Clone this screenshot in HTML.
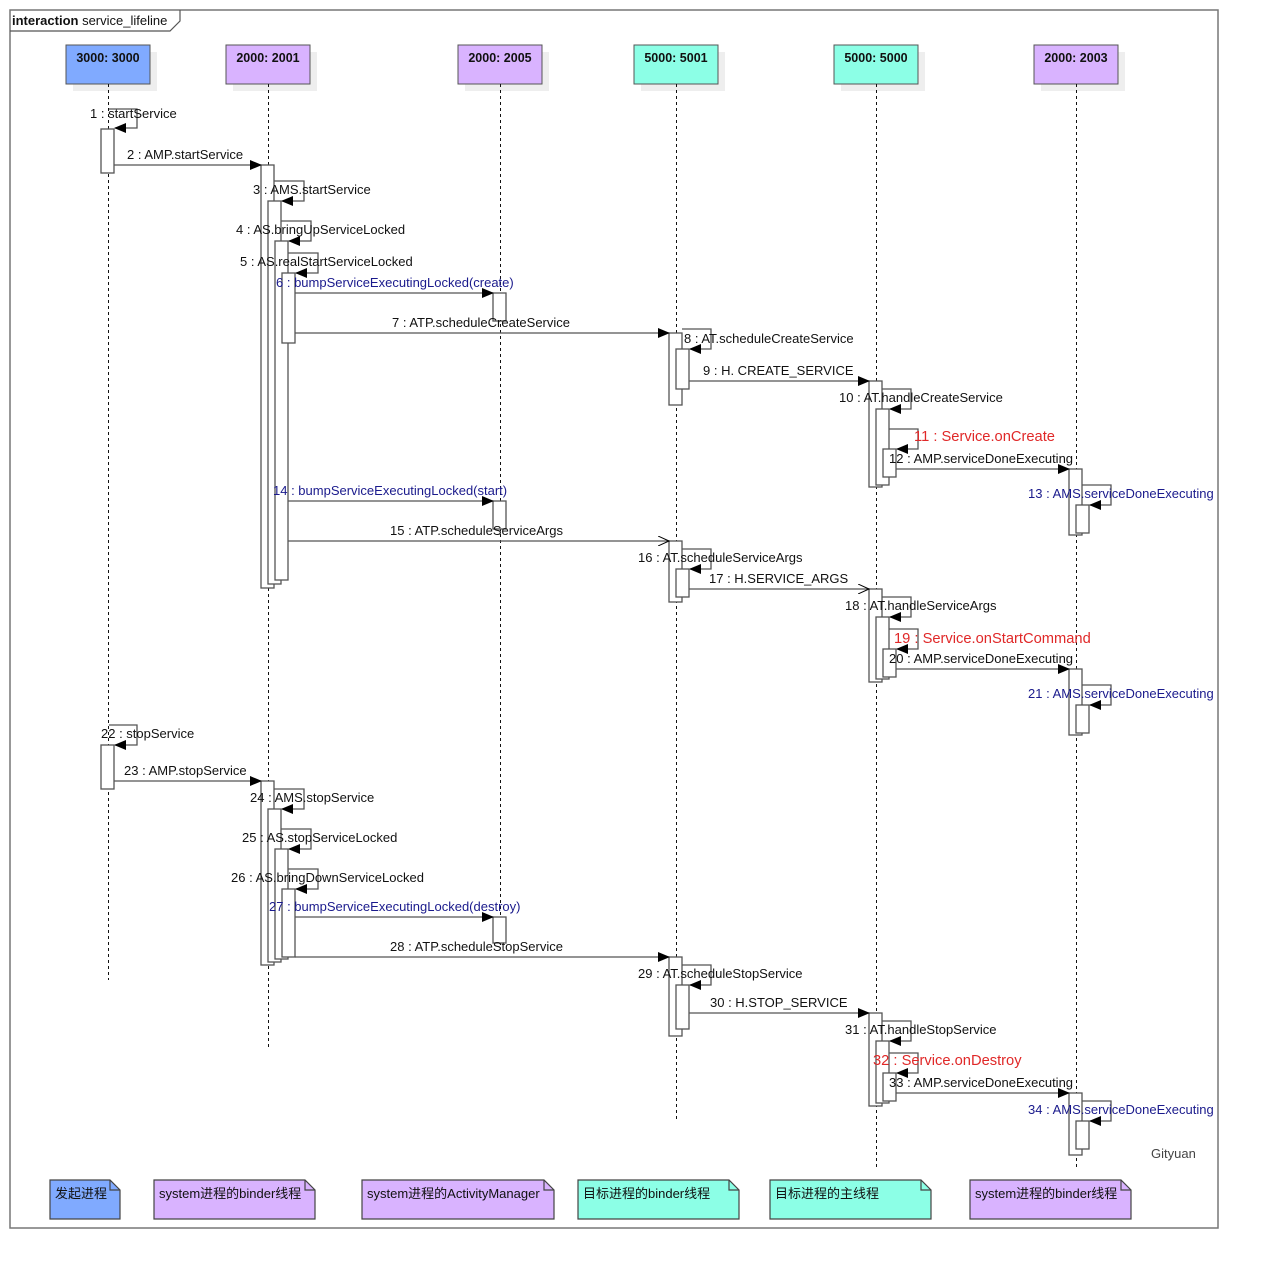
<!DOCTYPE html>
<html><head><meta charset="utf-8"><style>
html,body{margin:0;padding:0;background:#fff}
svg{display:block}
text{font-family:"Liberation Sans","Noto Sans CJK SC",sans-serif;font-size:13px;fill:#111}
.h{font-size:12.5px;font-weight:bold}
.b{fill:#1a1a8c}.r{fill:#e02828;font-size:14.7px}
.a{fill:#fff;stroke:#555;stroke-width:1.3}
.l{stroke:#555;stroke-width:1.3;fill:none}
.ll{stroke:#111;stroke-width:1;stroke-dasharray:3,3;fill:none}
</style></head><body>
<svg width="1269" height="1269" viewBox="0 0 1269 1269" xmlns="http://www.w3.org/2000/svg">
<defs>
<marker id="f" markerWidth="12" markerHeight="10" refX="11" refY="5" orient="auto" markerUnits="userSpaceOnUse"><path d="M0,0 L12,5 L0,10 z" fill="#000"/></marker>
<marker id="o" markerWidth="12" markerHeight="10" refX="11" refY="5" orient="auto" markerUnits="userSpaceOnUse"><path d="M0,0 L11,5 L0,10" fill="none" stroke="#000" stroke-width="1"/></marker>
</defs>
<rect x="10" y="10" width="1208" height="1218" fill="none" stroke="#777" stroke-width="1.5"/>
<path d="M10,31 L170,31 L180,21 L180,10" fill="none" stroke="#555" stroke-width="1.2"/>
<text x="12" y="25"><tspan font-weight="bold">interaction</tspan> service_lifeline</text>

<g>
<rect x="73" y="52" width="84" height="39" fill="#eee"/><rect x="66" y="45" width="84" height="39" fill="#80aaff" stroke="#555"/>
<rect x="233" y="52" width="84" height="39" fill="#eee"/><rect x="226" y="45" width="84" height="39" fill="#d9b3ff" stroke="#555"/>
<rect x="465" y="52" width="84" height="39" fill="#eee"/><rect x="458" y="45" width="84" height="39" fill="#d9b3ff" stroke="#555"/>
<rect x="641" y="52" width="84" height="39" fill="#eee"/><rect x="634" y="45" width="84" height="39" fill="#8cffe6" stroke="#555"/>
<rect x="841" y="52" width="84" height="39" fill="#eee"/><rect x="834" y="45" width="84" height="39" fill="#8cffe6" stroke="#555"/>
<rect x="1041" y="52" width="84" height="39" fill="#eee"/><rect x="1034" y="45" width="84" height="39" fill="#d9b3ff" stroke="#555"/>
<g text-anchor="middle">
<text class="h" x="108" y="62">3000: 3000</text>
<text class="h" x="268" y="62">2000: 2001</text>
<text class="h" x="500" y="62">2000: 2005</text>
<text class="h" x="676" y="62">5000: 5001</text>
<text class="h" x="876" y="62">5000: 5000</text>
<text class="h" x="1076" y="62">2000: 2003</text>
</g>
</g>
<path class="ll" d="M108.5,84V980 M268.5,84V1048 M500.5,84V945 M676.5,84V1120 M876.5,84V1168 M1076.5,84V1168"/>

<rect class="a" x="101" y="129" width="13" height="44"/>
<rect class="a" x="101" y="745" width="13" height="44"/>
<rect class="a" x="261" y="165" width="13" height="423"/>
<rect class="a" x="268" y="201" width="13" height="383"/>
<rect class="a" x="275" y="241" width="13" height="339"/>
<rect class="a" x="282" y="273" width="13" height="70"/>
<rect class="a" x="493" y="293" width="13" height="28"/>
<rect class="a" x="669" y="333" width="13" height="72"/>
<rect class="a" x="676" y="349" width="13" height="40"/>
<rect class="a" x="869" y="381" width="13" height="106"/>
<rect class="a" x="876" y="409" width="13" height="76"/>
<rect class="a" x="883" y="449" width="13" height="28"/>
<rect class="a" x="1069" y="469" width="13" height="66"/>
<rect class="a" x="1076" y="505" width="13" height="28"/>
<rect class="a" x="493" y="501" width="13" height="28"/>
<rect class="a" x="669" y="541" width="13" height="61"/>
<rect class="a" x="676" y="569" width="13" height="28"/>
<rect class="a" x="869" y="589" width="13" height="93"/>
<rect class="a" x="876" y="617" width="13" height="62"/>
<rect class="a" x="883" y="649" width="13" height="28"/>
<rect class="a" x="1069" y="669" width="13" height="66"/>
<rect class="a" x="1076" y="705" width="13" height="28"/>
<rect class="a" x="261" y="781" width="13" height="184"/>
<rect class="a" x="268" y="809" width="13" height="153"/>
<rect class="a" x="275" y="849" width="13" height="110"/>
<rect class="a" x="282" y="889" width="13" height="68"/>
<rect class="a" x="493" y="917" width="13" height="26"/>
<rect class="a" x="669" y="957" width="13" height="79"/>
<rect class="a" x="676" y="985" width="13" height="44"/>
<rect class="a" x="869" y="1013" width="13" height="93"/>
<rect class="a" x="876" y="1041" width="13" height="62"/>
<rect class="a" x="883" y="1073" width="13" height="28"/>
<rect class="a" x="1069" y="1093" width="13" height="62"/>
<rect class="a" x="1076" y="1121" width="13" height="28"/>

<g class="l">
<path d="M109,109H137V128H115" marker-end="url(#f)"/>
<path d="M114,165H261" marker-end="url(#f)"/>
<path d="M274,181H304V201H282" marker-end="url(#f)"/>
<path d="M281,221H311V241H289" marker-end="url(#f)"/>
<path d="M288,253H318V273H296" marker-end="url(#f)"/>
<path d="M295,293H493" marker-end="url(#f)"/>
<path d="M295,333H669" marker-end="url(#f)"/>
<path d="M682,329H711V349H690" marker-end="url(#f)"/>
<path d="M689,381H869" marker-end="url(#f)"/>
<path d="M882,389H911V409H890" marker-end="url(#f)"/>
<path d="M889,429H918V449H897" marker-end="url(#f)"/>
<path d="M896,469H1069" marker-end="url(#f)"/>
<path d="M1082,485H1111V505H1090" marker-end="url(#f)"/>
<path d="M288,501H493" marker-end="url(#f)"/>
<path d="M288,541H669" marker-end="url(#o)"/>
<path d="M682,549H711V569H690" marker-end="url(#f)"/>
<path d="M689,589H869" marker-end="url(#o)"/>
<path d="M882,597H911V617H890" marker-end="url(#f)"/>
<path d="M889,629H918V649H897" marker-end="url(#f)"/>
<path d="M896,669H1069" marker-end="url(#f)"/>
<path d="M1082,685H1111V705H1090" marker-end="url(#f)"/>
<path d="M109,725H137V745H115" marker-end="url(#f)"/>
<path d="M114,781H261" marker-end="url(#f)"/>
<path d="M274,789H304V809H282" marker-end="url(#f)"/>
<path d="M281,829H311V849H289" marker-end="url(#f)"/>
<path d="M288,869H318V889H296" marker-end="url(#f)"/>
<path d="M295,917H493" marker-end="url(#f)"/>
<path d="M295,957H669" marker-end="url(#f)"/>
<path d="M682,965H711V985H690" marker-end="url(#f)"/>
<path d="M689,1013H869" marker-end="url(#f)"/>
<path d="M882,1021H911V1041H890" marker-end="url(#f)"/>
<path d="M889,1053H918V1073H897" marker-end="url(#f)"/>
<path d="M896,1093H1069" marker-end="url(#f)"/>
<path d="M1082,1101H1111V1121H1090" marker-end="url(#f)"/>
</g>

<text x="90" y="118">1 : startService</text>
<text x="127" y="159">2 : AMP.startService</text>
<text x="253" y="194">3 : AMS.startService</text>
<text x="236" y="234">4 : AS.bringUpServiceLocked</text>
<text x="240" y="266">5 : AS.realStartServiceLocked</text>
<text class="b" x="276" y="287">6 : bumpServiceExecutingLocked(create)</text>
<text x="392" y="327">7 : ATP.scheduleCreateService</text>
<text x="684" y="343">8 : AT.scheduleCreateService</text>
<text x="703" y="375">9 : H. CREATE_SERVICE</text>
<text x="839" y="402">10 : AT.handleCreateService</text>
<text class="r" x="914" y="441">11 : Service.onCreate</text>
<text x="889" y="463">12 : AMP.serviceDoneExecuting</text>
<text class="b" x="1028" y="498">13 : AMS.serviceDoneExecuting</text>
<text class="b" x="273" y="495">14 : bumpServiceExecutingLocked(start)</text>
<text x="390" y="535">15 : ATP.scheduleServiceArgs</text>
<text x="638" y="562">16 : AT.scheduleServiceArgs</text>
<text x="709" y="583">17 : H.SERVICE_ARGS</text>
<text x="845" y="610">18 : AT.handleServiceArgs</text>
<text class="r" x="894" y="643">19 : Service.onStartCommand</text>
<text x="889" y="663">20 : AMP.serviceDoneExecuting</text>
<text class="b" x="1028" y="698">21 : AMS.serviceDoneExecuting</text>
<text x="101" y="738">22 : stopService</text>
<text x="124" y="775">23 : AMP.stopService</text>
<text x="250" y="802">24 : AMS.stopService</text>
<text x="242" y="842">25 : AS.stopServiceLocked</text>
<text x="231" y="882">26 : AS.bringDownServiceLocked</text>
<text class="b" x="269" y="911">27 : bumpServiceExecutingLocked(destroy)</text>
<text x="390" y="951">28 : ATP.scheduleStopService</text>
<text x="638" y="978">29 : AT.scheduleStopService</text>
<text x="710" y="1007">30 : H.STOP_SERVICE</text>
<text x="845" y="1034">31 : AT.handleStopService</text>
<text class="r" x="873" y="1065">32 : Service.onDestroy</text>
<text x="889" y="1087">33 : AMP.serviceDoneExecuting</text>
<text class="b" x="1028" y="1114">34 : AMS.serviceDoneExecuting</text>
<text x="1151" y="1158" style="fill:#444">Gityuan</text>

<g stroke="#444" stroke-width="1.2">
<path d="M50,1180H110L120,1190V1219H50Z" fill="#80aaff"/><path d="M110,1180V1190H120" fill="none"/>
<path d="M154,1180H305L315,1190V1219H154Z" fill="#d9b3ff"/><path d="M305,1180V1190H315" fill="none"/>
<path d="M362,1180H544L554,1190V1219H362Z" fill="#d9b3ff"/><path d="M544,1180V1190H554" fill="none"/>
<path d="M578,1180H729L739,1190V1219H578Z" fill="#8cffe6"/><path d="M729,1180V1190H739" fill="none"/>
<path d="M770,1180H921L931,1190V1219H770Z" fill="#8cffe6"/><path d="M921,1180V1190H931" fill="none"/>
<path d="M970,1180H1121L1131,1190V1219H970Z" fill="#d9b3ff"/><path d="M1121,1180V1190H1131" fill="none"/>
</g>
<text x="55" y="1198">发起进程</text>
<text x="159" y="1198">system进程的binder线程</text>
<text x="367" y="1198">system进程的ActivityManager</text>
<text x="583" y="1198">目标进程的binder线程</text>
<text x="775" y="1198">目标进程的主线程</text>
<text x="975" y="1198">system进程的binder线程</text>
</svg>
</body></html>
